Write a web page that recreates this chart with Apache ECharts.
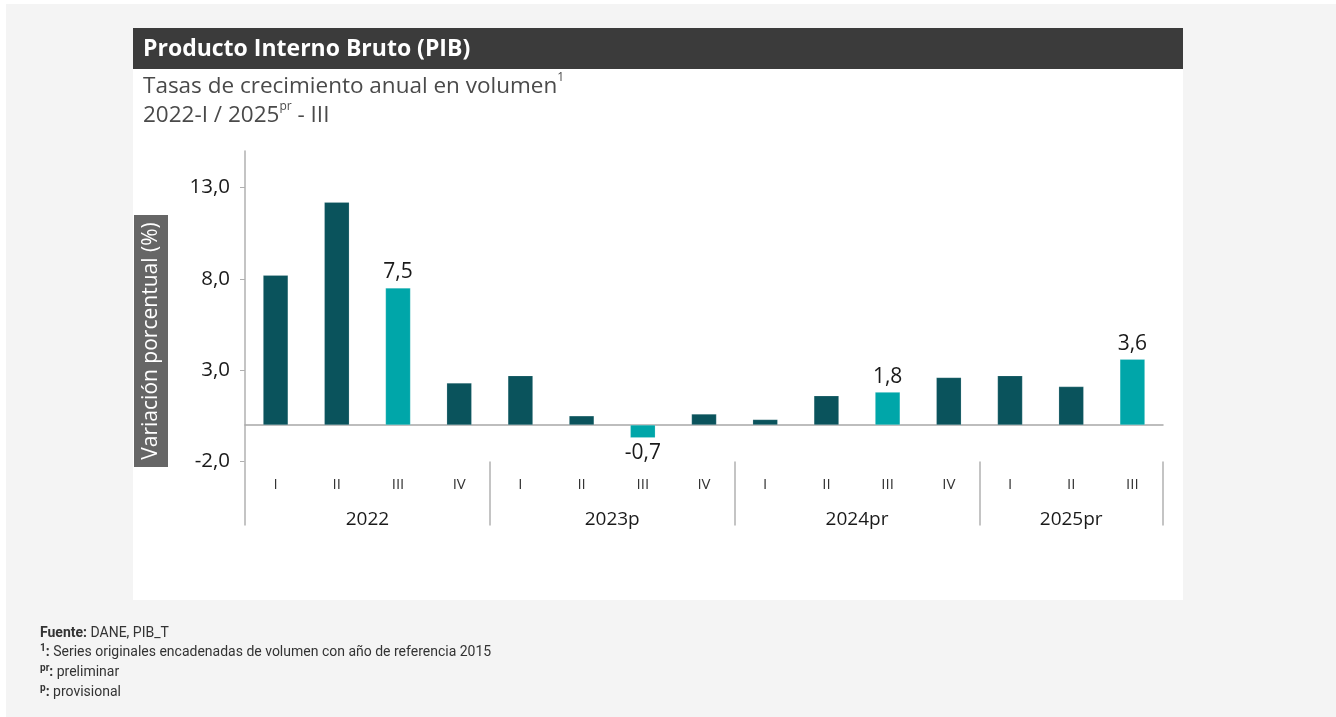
<!DOCTYPE html>
<html>
<head>
<meta charset="utf-8">
<script src="https://cdn.jsdelivr.net/npm/echarts@6/dist/echarts.min.js"></script>
<style>
  html, body { margin: 0; padding: 0; background: #fff; }
  #chart { width: 1336px; height: 717px; }
</style>
</head>
<body>
<div id="chart"></div>
<script>
// datos del grafico
var quarters = ['I', 'II', 'III', 'IV', 'I', 'II', 'III', 'IV', 'I', 'II', 'III', 'IV', 'I', 'II', 'III'];
var pibValues = [8.2, 12.2, 7.5, 2.3, 2.7, 0.5, -0.7, 0.6, 0.3, 1.6, 1.8, 2.6, 2.7, 2.1, 3.6];
var highlighted = [2, 6, 10, 14]; // trimestres III, resaltados con etiqueta
var years = ['2022', '2023p', '2024pr', '2025pr'];
var yearSpans = [4, 4, 4, 3];
var yTicks = [-2, 3, 8, 13];

var DARK = '#0a535c';
var TEAL = '#00a6a9';
var FONT = '"Open Sans", "Noto Sans", sans-serif';

function fmt(v) {
  return v.toFixed(1).replace('.', ',');
}

// posiciones de los separadores y centros de los años
var yearBounds = [0];
var yearCenters = [];
for (var i = 0; i < yearSpans.length; i++) {
  var start = yearBounds[yearBounds.length - 1];
  yearCenters.push(start + yearSpans[i] / 2);
  yearBounds.push(start + yearSpans[i]);
}

var barData = [];
for (var j = 0; j < pibValues.length; j++) {
  var hl = highlighted.indexOf(j) >= 0;
  barData.push({
    value: pibValues[j],
    itemStyle: { color: hl ? TEAL : DARK },
    label: {
      show: hl,
      position: pibValues[j] < 0 ? 'bottom' : 'top'
    }
  });
}

var supStyle = { fontWeight: 'bold', fontFamily: 'Roboto', fontSize: 10, fill: '#333333', verticalAlign: 'top', lineHeight: 19 };
var boldStyle = { fontWeight: 'bold', fontFamily: 'Roboto', fontSize: 14, fill: '#333333' };

var myChart = echarts.init(document.getElementById('chart'));
myChart.setOption({
  backgroundColor: '#ffffff',
  animation: false,
  textStyle: { fontFamily: FONT },
  graphic: [
    { type: 'rect', z: -10, shape: { x: 6, y: 4, width: 1330, height: 713 }, style: { fill: '#f4f4f4' } },
    { type: 'rect', z: -9, shape: { x: 133, y: 28, width: 1050, height: 572 }, style: { fill: '#ffffff' } },
    { type: 'rect', z: -8, shape: { x: 133, y: 28, width: 1050, height: 41 }, style: { fill: '#3b3b3b' } },
    {
      type: 'text', x: 143, y: 49,
      style: { text: 'Producto Interno Bruto (PIB)', fill: '#ffffff', font: 'bold 23px ' + FONT, verticalAlign: 'middle' }
    },
    {
      type: 'text', x: 143, y: 72,
      style: {
        text: 'Tasas de crecimiento anual en volumen{sup|1}\n2022-I / 2025{sup|pr} - III',
        fill: '#4a4a4a', font: '22.5px ' + FONT, lineHeight: 29,
        rich: {
          sup: { fontSize: 12, fill: '#4a4a4a', fontFamily: FONT, verticalAlign: 'top', lineHeight: 29 }
        }
      }
    },
    // etiqueta del eje y
    { type: 'rect', shape: { x: 134, y: 215, width: 34, height: 252 }, style: { fill: '#666666' } },
    {
      type: 'text', x: 151, y: 341, rotation: Math.PI / 2,
      style: { text: 'Variación porcentual (%)', fill: '#ffffff', font: '21px ' + FONT, align: 'center', verticalAlign: 'middle' }
    },
    // notas
    {
      type: 'text', x: 40, y: 624,
      style: {
        text: '{b|Fuente:} DANE, PIB_T',
        fill: '#333333', font: '14px Roboto', lineHeight: 19,
        rich: { b: boldStyle }
      }
    },
    {
      type: 'text', x: 40, y: 643,
      style: {
        text: '{s|1}{b|:} Series originales encadenadas de volumen con año de referencia 2015',
        fill: '#333333', font: '14px Roboto', lineHeight: 19,
        rich: { b: boldStyle, s: supStyle }
      }
    },
    {
      type: 'text', x: 40, y: 663,
      style: {
        text: '{s|pr}{b|:} preliminar',
        fill: '#333333', font: '14px Roboto', lineHeight: 19,
        rich: { b: boldStyle, s: supStyle }
      }
    },
    {
      type: 'text', x: 40, y: 683,
      style: {
        text: '{s|p}{b|:} provisional',
        fill: '#333333', font: '14px Roboto', lineHeight: 19,
        rich: { b: boldStyle, s: supStyle }
      }
    }
  ],
  grid: {
    left: 245,
    right: 173,
    top: 151,
    bottom: 255.5,
    containLabel: false
  },
  xAxis: [
    {
      type: 'category',
      data: quarters,
      axisLine: { onZero: true, lineStyle: { color: '#a8a8a8', width: 1.5 } },
      axisTick: { show: false },
      axisLabel: { margin: 16, fontSize: 15, color: '#333333', fontFamily: FONT, interval: 0 },
      splitLine: { show: false }
    },
    {
      // segundo nivel: años
      type: 'value',
      min: 0,
      max: quarters.length,
      position: 'bottom',
      axisLine: { show: false, onZero: false },
      axisTick: {
        show: true,
        customValues: yearBounds,
        length: 64,
        lineStyle: { color: '#c4c4c4', width: 2 }
      },
      axisLabel: {
        customValues: yearCenters,
        margin: 49,
        fontSize: 19,
        color: '#1a1a1a',
        fontFamily: FONT,
        formatter: function (v) {
          var k = yearCenters.indexOf(v);
          return k >= 0 ? years[k] : '';
        }
      },
      splitLine: { show: false }
    }
  ],
  yAxis: {
    type: 'value',
    min: -2,
    max: 15,
    axisLine: { show: true, lineStyle: { color: '#b0b0b0', width: 1.5 } },
    axisTick: { show: true, customValues: yTicks, length: 5, lineStyle: { color: '#b0b0b0' } },
    axisLabel: {
      customValues: yTicks,
      margin: 15,
      fontSize: 20.5,
      color: '#1a1a1a',
      fontFamily: FONT,
      formatter: function (v) { return fmt(v); }
    },
    splitLine: { show: false }
  },
  series: [
    {
      name: 'PIB',
      type: 'bar',
      xAxisIndex: 0,
      barWidth: 25,
      data: barData,
      itemStyle: { borderColor: 'rgba(255,255,255,0.35)', borderWidth: 0.5 },
      label: {
        fontSize: 21,
        color: '#1a1a1a',
        fontFamily: FONT,
        distance: 5,
        formatter: function (p) { return fmt(p.value); }
      }
    }
  ]
});

window.addEventListener('resize', function () {
  myChart.resize();
});
</script>
</body>
</html>
